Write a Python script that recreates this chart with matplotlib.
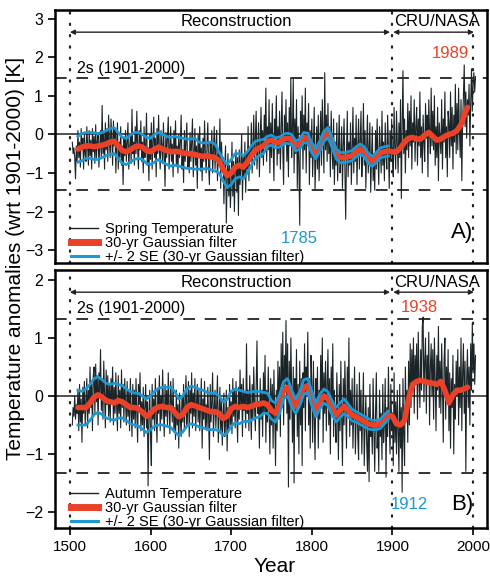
import numpy as np
import matplotlib
matplotlib.use("Agg")
import matplotlib.pyplot as plt
from matplotlib.lines import Line2D

plt.rcParams['font.family'] = ['Liberation Sans', 'DejaVu Sans']

# annual anomalies [K], spring series 1503-2003
spring = [
    -0.2, -0.5, -0.35, -0.6, -1.15, -0.3, -0.7,
    0.1, -0.6, -0.2, -0.85, 0.15, -0.4, -0.1, -0.9, 0.05, -0.5,
    -0.7, 0.2, -0.3, -0.8, 0.1, -0.55, -0.15, -0.9, 0.15, -0.45,
    -0.05, -0.75, 0.25, -0.6, -0.2, 0.05, -0.85, -0.3, 0.1, -0.6,
    0.75, -0.5, 0.0, -0.9, 0.3, -0.4, 0.15, -0.7, 0.5, -0.2,
    -0.6, 0.4, -0.1, -0.8, 0.35, -0.3, 0.1, -1.0, -0.2, 0.3,
    -0.9, -0.2, -0.6, 0.2, -0.8, -0.3, -1.3, -0.1, -0.55, 0.1,
    -0.7, -0.2, 0.3, -0.9, -0.4, 0.0, -0.75, 0.65, -0.5, -0.2,
    -0.8, 0.2, -0.5, 0.6, -0.35, -0.9, 0.1, -0.4, 0.35, -0.7,
    -0.2, -1.0, 0.2, -0.6, -0.3, 0.55, -0.8, -0.35, -1.2, 0.0,
    -0.65, 0.3, -0.9, -0.2, 0.45, -0.6, -0.1, -1.1, 0.15, -0.5,
    0.5, -0.4, -0.9, 0.1, -0.3, -0.75, 0.3, -0.5, -1.35, 0.05,
    -0.6, -0.1, 0.45, -0.9, -0.35, 0.2, -0.7, -0.25, -1.1, 0.1,
    -0.5, 0.35, -0.8, -0.3, -1.0, 0.0, -0.6, -0.2, 0.5, -0.9,
    -0.4, -1.25, 0.1, -0.7, -0.15, 0.3, -0.85, -0.5, -1.0, 0.05,
    -0.7, -0.2, 0.4, -1.1, -0.45, 0.15, -0.8, -0.3, -1.4, 0.0,
    -0.6, 0.2, -0.95, -0.35, -1.2, -0.1, -0.7, 0.35, -0.5, -1.0,
    -0.3, 0.3, -0.8, -1.3, -0.2, -0.6, 0.1, -1.0, -0.45, 0.2,
    -0.9, -0.3, 0.1, -1.2, -0.5, -0.8, 0.4, -1.4, -0.2, -0.9,
    -0.6, -1.8, -0.9, -0.3, -2.3, -1.2, -0.5, -1.6, -0.8, -1.9,
    -1.3, -0.2, -1.6, -0.7, -2.0, -0.9, -0.4, -1.5, -0.6, -2.1,
    -0.4, -1.3, -0.8, 0.0, -1.7, -0.6, -1.1, -0.2, -1.5, -0.5,
    -0.9, 0.2, -1.2, -0.4, -0.7, 0.3, -1.0, -0.3, 0.5, -0.8,
    -0.1, 0.6, -0.9, -0.3, 0.3, -1.1, -0.2, 0.7, -0.6, 0.1,
    -0.8, 0.5, -0.1, 1.2, -0.7, 0.2, -0.4, 0.9, -1.0, 0.3,
    -0.6, 0.8, -0.3, -1.2, 0.4, -0.1, 1.0, -0.8, 0.2, -0.5,
    0.6, -0.9, 0.1, 1.1, -0.4, -1.3, 0.5, -0.2, 0.9, -0.7,
    0.3, -1.1, 0.7, -0.3, 1.45, -0.6, 0.1, 1.45, -1.0, 0.4,
    -0.5, 0.9, -1.4, 0.2, -0.8, -2.35, 0.6, -0.3, 1.0, -0.9,
    0.5, -0.4, 1.2, -1.0, 0.3, -0.2, 0.8, -1.3, 0.1, -0.6,
    0.4, -1.1, -0.3, 0.7, -1.45, -0.6, 0.2, -0.9, 0.5, -1.2,
    -0.3, 0.6, -0.8, 0.9, -0.1, -1.0, 1.6, -0.4, 0.5, -0.7,
    0.8, -0.5, 0.2, -1.1, 0.6, -0.3, -0.9, 0.4, -1.3, -0.2,
    -0.8, 0.3, -1.2, -0.4, 0.5, -1.0, -0.6, 0.2, -1.4, -0.3,
    0.4, -0.9, -2.2, -0.5, 0.6, -1.1, -0.2, -0.8, 0.3, -1.3,
    -0.4, 0.7, -1.0, -0.1, -0.7, 0.5, -1.3, -0.3, 0.4, -0.9,
    -0.2, 0.6, -1.1, -0.5, 0.8, -0.8, 0.1, -1.4, -0.3, 0.5,
    -1.0, -0.4, 0.3, -1.5, -0.7, 0.2, -1.2, -0.5, -1.45, 0.1,
    -0.9, 0.4, -0.6, -1.3, 0.2, -0.4, -1.0, 0.6, -0.8, -0.2,
    -1.2, 0.3, -0.5, -0.9, 0.5, -0.3, -1.4, 0.1, -0.7, 0.4,
    -0.6, -1.1, 0.7, -0.3, -0.9, 0.6, -0.2, -1.0, 0.3, -0.6,
    0.9, -1.66, 0.2, 1.65, -0.5, 0.4, -1.0, 0.1, -0.4, 0.8,
    -0.6, 0.6, -0.3, 1.0, -0.9, 0.3, -0.2, 0.9, -0.7, 0.2,
    0.7, -0.8, 0.4, -0.3, 1.1, -0.6, 0.2, -1.0, 0.5, -0.2,
    -0.7, 0.8, -0.1, 0.5, -1.1, 0.9, 0.1, -0.5, 1.2, -0.3,
    0.6, -0.4, 1.0, -0.8, 0.2, -0.6, 0.7, -1.2, 0.3, -0.1,
    -0.5, 0.9, -0.9, 0.4, -0.2, 1.1, -0.6, 0.2, -1.1, 0.6,
    0.3, -0.6, 1.1, -0.3, 0.7, -0.9, 0.5, -0.2, 1.3, -0.5,
    0.8, -0.4, 1.2, 0.1, -0.6, 0.9, -1.2, 0.4, 1.0, 1.8,
    0.2, 1.1, -0.1, 0.9, 0.5, 1.3, -0.3, 0.8, 1.7, 0.6,
    1.3, 1.6, 1.1, 1.5,
]

# autumn series 1503-2003
autumn = [
    -0.5, -0.2, -0.35, 0.0, -0.4, -0.15, -0.3,
    0.1, -0.6, 0.2, -0.45, -0.05, -0.8, 0.15, -0.3, 0.25, -0.5,
    -0.1, 0.3, -0.55, 0.1, -0.3, 0.5, -0.2, 0.2, -0.6, 0.35,
    0.5, -0.3, 0.55, -0.1, 0.35, -0.5, 0.4, 0.05, 0.8, -0.25,
    0.3, -0.4, 0.6, 0.0, -0.55, 0.45, -0.15, 0.35, -0.35, 0.2,
    -0.45, 0.3, -0.1, 0.5, -0.5, 0.15, -0.3, 0.4, -0.2, -0.6,
    0.35, -0.3, 0.1, -0.55, 0.45, -0.2, 0.2, -0.45, 0.3, -0.1,
    -0.5, 0.25, -0.35, 0.1, -0.6, 0.3, -0.25, -0.7, 0.2, -0.4,
    0.1, -0.55, 0.3, -0.3, -0.8, 0.2, -0.15, 0.4, -0.6, -0.1,
    -0.5, 0.15, -0.7, -0.2, 0.2, -0.55, -0.1, -1.55, -0.3, 0.1,
    -0.7, -1.2, 0.2, -0.4, -0.05, -0.6, 0.3, -0.35, -0.8, 0.1,
    -0.3, 0.35, -0.6, 0.0, -0.4, 0.45, -0.2, -0.7, 0.2, -0.35,
    0.1, -0.5, 0.4, -0.2, -0.65, 0.25, -0.1, -0.45, 0.3, -0.6,
    -0.2, -0.75, 0.1, -0.5, -0.15, -0.9, 0.05, -0.4, -0.7, 0.0,
    -0.45, 0.2, -0.6, -0.1, 0.35, -0.5, -0.2, 0.25, -0.7, 0.1,
    -0.3, 0.4, -0.55, 0.05, -0.35, 0.3, -0.6, -0.1, 0.2, -0.45,
    0.1, -0.6, -0.2, 0.3, -0.9, -0.05, -0.4, 0.25, -0.55, -0.15,
    -0.6, 0.15, -0.35, -1.1, 0.2, -0.45, -0.1, 0.4, -0.7, -0.2,
    0.1, -0.55, -0.15, 0.35, -0.8, -0.3, 0.15, -0.6, -0.1, -0.85,
    -0.3, 0.05, -0.7, -0.45, 0.1, -0.95, -0.2, -0.6, 0.2, -0.5,
    -0.1, -0.65, 0.3, -0.35, 0.1, -0.55, 0.25, -0.3, -0.8, 0.15,
    -0.4, 0.45, -0.2, 0.2, -0.7, 0.3, -0.25, 0.05, -0.55, 0.9,
    -0.3, 0.1, -0.6, 0.35, -0.15, -0.75, 0.2, -0.4, 0.5, -0.2,
    -0.6, 0.15, 0.95, -0.3, -0.1, -0.9, 0.3, -0.4, 0.1, -0.7,
    0.4, -0.3, 0.7, -0.8, 0.1, -0.45, 0.5, -0.2, -1.0, 0.3,
    -0.5, 0.2, -0.9, 0.45, -0.3, -1.2, 0.1, -0.6, 0.6, -0.4,
    0.5, -0.7, 0.9, -0.2, 1.1, -0.5, 0.7, 0.2, 1.3, -0.3,
    0.9, -1.57, 0.6, -0.4, 1.0, 0.1, -0.8, 0.5, -1.5, 0.3,
    -0.3, 0.8, -0.7, 0.2, -1.0, 0.6, -0.5, 0.3, -1.2, 0.4,
    -0.2, 0.9, -0.6, 0.5, 0.1, 1.1, -0.5, 0.3, -0.9, 0.7,
    0.2, -0.8, 0.6, -0.4, -1.1, 0.3, -0.2, 0.5, -0.9, 0.1,
    -0.4, 0.7, -0.1, 1.0, -0.8, 0.4, -0.3, 0.6, -0.6, 0.2,
    0.8, -0.5, 0.3, -1.0, 0.5, -0.2, 0.9, -0.7, 0.1, -0.4,
    -0.8, 0.4, -0.3, -1.1, 0.2, -0.6, 0.6, -0.4, -1.2, 0.3,
    -0.5, 0.6, -0.2, -0.9, 0.5, -0.3, 1.0, -0.7, 0.1, -0.5,
    0.3, -0.9, -0.2, 0.5, -1.0, -0.4, 0.2, -0.7, -1.1, 0.4,
    -0.6, 0.1, -1.0, -0.3, 0.4, -1.2, -0.5, 0.0, -0.8, -1.3,
    -0.2, -1.48, 0.2, -0.7, -0.4, -1.0, 0.3, -0.6, -1.3, -0.3,
    0.4, -0.9, -0.5, -1.3, 0.1, -0.7, -0.3, -1.1, 0.2, -0.8,
    -0.5, 0.3, -1.4, -0.2, -0.7, 0.5, -0.4, -1.0, 0.2, -0.6,
    -0.3, -1.2, 0.4, -0.8, -0.1, -1.0, 0.1, -0.6, -1.3, 0.2,
    -0.9, -0.2, -1.66, 0.3, -0.7, -1.2, 0.5, -0.4, 0.1, -0.8,
    0.6, -0.5, 0.9, -0.2, 0.8, 0.1, 1.0, -0.3, 0.7, 0.2,
    0.9, -0.4, 1.1, 0.3, -0.2, 0.8, 0.1, 1.2, 1.36, -0.1,
    0.6, 1.0, -0.3, 0.7, 0.2, 1.1, -0.5, 0.5, 0.9, 0.0,
    0.8, -0.4, 1.0, 0.3, -0.6, 0.7, 0.1, 1.2, -0.2, 0.6,
    -0.3, 0.9, 0.2, -0.8, 0.6, 1.0, -0.4, 0.5, -0.1, 0.8,
    -0.6, 0.4, -0.9, 0.3, -0.2, 0.7, -1.0, 0.2, -0.4, 0.6,
    0.0, 0.8, -0.5, 0.5, -0.2, 1.0, -0.6, 0.4, 0.9, -0.3,
    0.6, -1.3, 0.3, 0.8, -0.2, 0.5, -0.5, 0.9, 0.1, 1.25,
    0.4, 0.9, 0.2, 0.7,
]
years = np.arange(1503, 1503 + len(spring))

# 30-yr Gaussian filter, read every 5 years (1510-1990) plus 1993
filt_years = list(range(1510, 1995, 5)) + [1993]
spring_filt = [
    -0.38, -0.33, -0.3, -0.3, -0.32, -0.3, -0.28, -0.25, -0.2, -0.18,
    -0.3, -0.42, -0.45, -0.4, -0.33, -0.3, -0.33, -0.42, -0.45, -0.38,
    -0.33, -0.38, -0.42, -0.45, -0.44, -0.45, -0.48, -0.5, -0.5, -0.52,
    -0.55, -0.57, -0.56, -0.58, -0.6, -0.68, -0.9, -1.07, -1.0, -0.85,
    -0.8, -0.85, -0.72, -0.55, -0.4, -0.35, -0.3, -0.18, -0.15, -0.22,
    -0.2, -0.12, -0.1, -0.13, -0.3, -0.25, -0.08, -0.1, -0.35, -0.5,
    -0.3, -0.05, 0.05, -0.2, -0.5, -0.6, -0.6, -0.58, -0.55, -0.45,
    -0.38, -0.45, -0.62, -0.7, -0.6, -0.48, -0.45, -0.43, -0.45, -0.45,
    -0.35, -0.2, -0.1, -0.08, -0.12, -0.12, -0.02, 0.05, -0.05, -0.15,
    -0.12, -0.05, 0.0, 0.03, 0.1, 0.25, 0.55, 0.7,
]
autumn_filt = [
    -0.2, -0.2, -0.2, -0.12, -0.02, 0.02, -0.02, -0.08, -0.1, -0.12,
    -0.08, -0.1, -0.15, -0.2, -0.2, -0.22, -0.28, -0.35, -0.3, -0.22,
    -0.19, -0.18, -0.2, -0.2, -0.28, -0.36, -0.32, -0.2, -0.15, -0.17,
    -0.2, -0.22, -0.25, -0.27, -0.27, -0.3, -0.39, -0.35, -0.22, -0.18,
    -0.2, -0.18, -0.2, -0.18, -0.15, -0.14, -0.12, -0.15, -0.25, -0.3,
    -0.15, 0.1, 0.15, -0.05, -0.18, -0.05, 0.15, 0.18, -0.05, -0.24,
    -0.1, 0.0, -0.05, -0.2, -0.33, -0.25, -0.18, -0.25, -0.33, -0.36,
    -0.4, -0.44, -0.48, -0.5, -0.5, -0.48, -0.4, -0.33, -0.35, -0.48,
    -0.5, -0.42, -0.05, 0.2, 0.25, 0.27, 0.25, 0.23, 0.22, 0.2,
    0.25, 0.1, -0.12, 0.02, 0.1, 0.1, 0.13, 0.15,
]

# +/- 2 SE bands, reconstruction period 1510-1895
se_years = list(range(1510, 1900, 5))
spring_hi = [
    -0.05, 0.02, 0.05, 0.05, 0.04, 0.02, 0.05, 0.1, 0.15, 0.17,
    0.05, -0.08, -0.1, -0.02, 0.05, 0.05, 0.0, -0.08, -0.1, 0.0,
    0.05, 0.0, -0.05, -0.08, -0.05, -0.08, -0.1, -0.12, -0.12, -0.1,
    -0.2, -0.22, -0.22, -0.2, -0.25, -0.45, -0.65, -0.78, -0.65, -0.5,
    -0.5, -0.55, -0.45, -0.3, -0.18, -0.15, -0.13, -0.05, -0.02, -0.09,
    -0.07, 0.01, 0.03, 0.0, -0.17, -0.12, 0.05, 0.03, -0.22, -0.37,
    -0.17, 0.08, 0.18, -0.07, -0.37, -0.47, -0.47, -0.45, -0.42, -0.32,
    -0.25, -0.32, -0.49, -0.57, -0.47, -0.35, -0.32, -0.3,
]
spring_lo = [
    -0.72, -0.68, -0.62, -0.62, -0.65, -0.65, -0.6, -0.55, -0.52, -0.5,
    -0.62, -0.75, -0.78, -0.72, -0.65, -0.62, -0.65, -0.75, -0.78, -0.72,
    -0.65, -0.72, -0.78, -0.82, -0.8, -0.82, -0.85, -0.88, -0.88, -0.9,
    -0.9, -0.9, -0.88, -0.92, -0.95, -1.0, -1.2, -1.38, -1.3, -1.15,
    -1.1, -1.15, -1.0, -0.8, -0.62, -0.55, -0.5, -0.31, -0.28, -0.35,
    -0.33, -0.25, -0.23, -0.26, -0.43, -0.38, -0.21, -0.23, -0.48, -0.63,
    -0.43, -0.18, -0.08, -0.33, -0.63, -0.73, -0.73, -0.71, -0.68, -0.58,
    -0.51, -0.58, -0.75, -0.83, -0.73, -0.61, -0.58, -0.56,
]
autumn_hi = [
    0.1, 0.08, 0.12, 0.2, 0.3, 0.33, 0.28, 0.22, 0.2, 0.22,
    0.2, 0.18, 0.12, 0.08, 0.05, 0.05, 0.0, -0.05, 0.0, 0.08,
    0.13, 0.15, 0.15, 0.15, 0.08, -0.05, 0.0, 0.12, 0.17, 0.15,
    0.12, 0.1, 0.06, 0.05, 0.05, 0.0, -0.1, -0.06, 0.08, 0.12,
    0.1, 0.08, 0.06, 0.07, 0.08, 0.08, 0.06, 0.05, -0.08, -0.12,
    0.02, 0.25, 0.3, 0.1, -0.05, 0.08, 0.28, 0.3, 0.08, -0.12,
    0.03, 0.12, 0.07, -0.08, -0.2, -0.12, -0.05, -0.14, -0.23, -0.27,
    -0.31, -0.35, -0.39, -0.42, -0.42, -0.4, -0.32, -0.26,
]
autumn_lo = [
    -0.5, -0.5, -0.5, -0.42, -0.32, -0.28, -0.32, -0.38, -0.4, -0.42,
    -0.38, -0.38, -0.42, -0.48, -0.5, -0.52, -0.57, -0.63, -0.58, -0.52,
    -0.5, -0.5, -0.52, -0.54, -0.62, -0.68, -0.62, -0.52, -0.48, -0.5,
    -0.53, -0.55, -0.57, -0.58, -0.58, -0.6, -0.68, -0.64, -0.52, -0.46,
    -0.48, -0.44, -0.44, -0.42, -0.38, -0.36, -0.3, -0.3, -0.4, -0.45,
    -0.3, -0.05, 0.0, -0.18, -0.3, -0.17, 0.03, 0.06, -0.17, -0.36,
    -0.22, -0.12, -0.17, -0.32, -0.45, -0.37, -0.3, -0.36, -0.43, -0.45,
    -0.49, -0.53, -0.57, -0.58, -0.58, -0.56, -0.48, -0.4,
]

RED = '#ea4128'
BLUE = '#1c98d4'
BLACK = '#1b2427'

fig = plt.figure(figsize=(4.9, 5.76), dpi=100)
ax1 = fig.add_axes([0.112, 0.543, 0.882, 0.44])
ax2 = fig.add_axes([0.112, 0.083, 0.882, 0.448])

panels = [
    (ax1, spring, spring_filt, spring_hi, spring_lo, 'Spring Temperature',
     1.45, (-3.34, 3.23), range(-3, 4), 2.65, 2.93),
    (ax2, autumn, autumn_filt, autumn_hi, autumn_lo, 'Autumn Temperature',
     1.32, (-2.28, 2.17), range(-2, 3), 1.79, 1.95),
]

for ax, raw, filt, hi, lo, name, s2, ylim, yt, arr_y, txt_y in panels:
    ax.plot(years, raw, color=BLACK, lw=0.8, zorder=2)
    ax.plot(filt_years, filt, color=RED, lw=4, solid_capstyle='round', zorder=3)
    ax.plot(se_years, hi, color=BLUE, lw=2, zorder=4)
    ax.plot(se_years, lo, color=BLUE, lw=2, zorder=4)
    ax.axhline(0, color='#222222', lw=1.1, zorder=1)
    for v in (s2, -s2):
        ax.axhline(v, color='#333333', lw=1.4, ls=(0, (6, 5)), zorder=1)
    for x in (1500, 1900, 2000):
        ax.axvline(x, color='#222222', lw=1.6, ls=(0, (0.6, 4.5)),
                   dash_capstyle='round', zorder=1)
    ax.annotate('', xy=(1500, arr_y), xytext=(1897, arr_y),
                arrowprops=dict(arrowstyle='<|-|>', color='#222222', lw=1,
                                mutation_scale=7, shrinkA=0, shrinkB=0))
    ax.annotate('', xy=(1901, arr_y), xytext=(2001, arr_y),
                arrowprops=dict(arrowstyle='<|-|>', color='#222222', lw=1,
                                mutation_scale=7, shrinkA=0, shrinkB=0))
    ax.text(1707, txt_y, 'Reconstruction', ha='center', va='center', fontsize=12)
    ax.text(1955, txt_y, 'CRU/NASA', ha='center', va='center', fontsize=12)
    ax.text(1509, s2 + 0.27 * (ylim[1] - ylim[0]) / 6.57, '2s (1901-2000)',
            ha='left', va='center', fontsize=11.5)

    ax.set_xlim(1481.4, 2017.3)
    ax.set_ylim(*ylim)
    ax.set_yticks(list(yt))
    ax.tick_params(axis='y', direction='out', length=5, width=1.2, labelsize=11.5)
    for sp in ax.spines.values():
        sp.set_linewidth(1.8)

    handles = [Line2D([], [], color=BLACK, lw=1),
               Line2D([], [], color=RED, lw=5),
               Line2D([], [], color=BLUE, lw=2.2)]
    labels = [name, '30-yr Gaussian filter', '+/- 2 SE (30-yr Gaussian filter)']
    ax.legend(handles, labels, loc='lower left', bbox_to_anchor=(0.035, -0.01),
              frameon=False, fontsize=10.5, handlelength=1.8, handletextpad=0.5,
              labelspacing=0.0, borderpad=0.1, borderaxespad=0)

ax1.set_xticks([])
ax2.set_xticks([1500, 1600, 1700, 1800, 1900, 2000])
ax2.tick_params(axis='x', direction='out', length=5, width=1.2, labelsize=11)

ax1.text(1785, -2.7, '1785', color=BLUE, ha='center', va='center', fontsize=12)
ax1.text(1972, 2.1, '1989', color=RED, ha='center', va='center', fontsize=12)
ax1.text(1986, -2.55, 'A)', ha='center', va='center', fontsize=16)
ax2.text(1933, 1.53, '1938', color=RED, ha='center', va='center', fontsize=12)
ax2.text(1921, -1.88, '1912', color=BLUE, ha='center', va='center', fontsize=12)
ax2.text(1986, -1.88, 'B)', ha='center', va='center', fontsize=16)

fig.text(0.032, 0.552, 'Temperature anomalies (wrt 1901-2000) [K]', rotation=90,
         ha='center', va='center', fontsize=15)
fig.text(0.561, 0.017, 'Year', ha='center', va='center', fontsize=15)

fig.savefig('out.png', dpi=100)
